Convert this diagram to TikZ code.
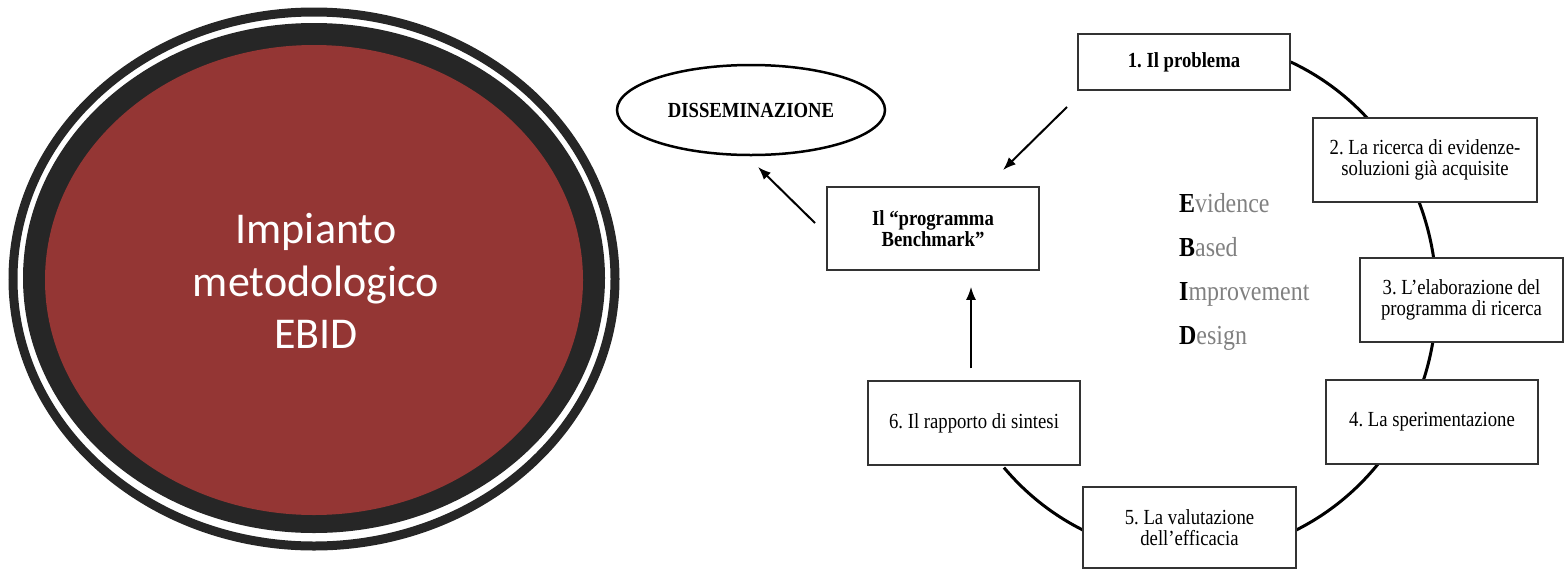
\documentclass[tikz,border=0pt]{standalone}
\usepackage{fontspec}
\setmainfont{Liberation Serif}[FakeStretch=0.87]
\newfontfamily\calib{Carlito}
\frenchspacing
\usetikzlibrary{arrows.meta,backgrounds,shapes.geometric}
\definecolor{ringdark}{HTML}{262626}
\definecolor{redfill}{HTML}{943634}
\definecolor{boxline}{HTML}{333333}
\definecolor{ebidgray}{HTML}{808080}
\tikzset{
  stepbox/.style={draw=boxline, line width=1.5pt, fill=white, inner sep=0pt, align=center,
    font=\fontsize{21.5}{21}\selectfont},
  arr/.style={draw=black, line width=2pt, -{Latex[length=13pt,width=10pt]}},
  cyc/.style={draw=black, line width=3pt},
  ebid/.style={anchor=base west, inner sep=0pt, font=\fontsize{27.5}{30}\selectfont, text=ebidgray}
}
\begin{document}
\begin{tikzpicture}[x=1pt,y=-1pt]
\useasboundingbox (0,0) rectangle (1564,571);
% left big ellipse
\draw[draw=ringdark, line width=9pt] (314,279) ellipse [x radius=301pt, y radius=267pt];
\fill[ringdark] (314,278) ellipse [x radius=291pt, y radius=255pt];
\fill[redfill] (314,280) ellipse [x radius=269pt, y radius=235pt];
\node[text=white, align=center, font=\calib\fontsize{44}{52.5}\selectfont] (title) at (316,281) {Impianto\\metodologico\\EBID};
% boxes
\node[stepbox, minimum width=212pt, minimum height=56pt, font=\bfseries\fontsize{21.5}{21}\selectfont] (b1) at (1184,62) {1. Il problema};
\node[stepbox, minimum width=224pt, minimum height=84pt] (b2) at (1425,160) {2. La ricerca di evidenze-\\soluzioni già acquisite};
\node[stepbox, minimum width=203pt, minimum height=84pt] (b3) at (1461.5,300) {3. L’elaborazione del\\programma di ricerca};
\node[stepbox, minimum width=212pt, minimum height=84pt] (b4) at (1432,422) {4. La sperimentazione};
\node[stepbox, minimum width=213pt, minimum height=81pt] (b5) at (1189.5,527.5) {5. La valutazione\\dell’efficacia};
\node[stepbox, minimum width=212pt, minimum height=84pt] (b6) at (974,423) {6. Il rapporto di sintesi};
\node[stepbox, minimum width=212pt, minimum height=83pt, font=\bfseries\fontsize{21.5}{21}\selectfont] (bench) at (933,228.5) {Il “programma\\Benchmark”};
\node[draw=black, line width=2.5pt, ellipse, minimum width=268pt, minimum height=90pt, inner sep=0pt,
  font=\bfseries\fontsize{21.5}{21}\selectfont] (diss) at (751,110) {DISSEMINAZIONE};
% cycle arc
\begin{scope}[on background layer]
\draw[cyc] (b1.east) arc [start angle=65.8, end angle=-138.7, x radius=247pt, y radius=258pt];
\end{scope}
% arrows
\coordinate (a1s) at (1067,107);
\coordinate (a1e) at (1003,170);
\coordinate (a2s) at (815,223);
\coordinate (a2e) at (758,167);
\draw[arr] (a1s) -- (a1e);
\draw[arr] (a2s) -- (a2e);
\draw[arr, shorten <=12pt, shorten >=16pt] ([xshift=-3pt]b6.north) -- ([xshift=-3pt]b6.north |- bench.south);
% EBID
\node[ebid] (ev) at (1179,212) {\textcolor{black}{\textbf{E}}vidence};
\node[ebid] (ba) at (1179,256) {\textcolor{black}{\textbf{B}}ased};
\node[ebid] (im) at (1179,300) {\textcolor{black}{\textbf{I}}mprovement};
\node[ebid] (de) at (1179,344) {\textcolor{black}{\textbf{D}}esign};
\end{tikzpicture}
\end{document}
